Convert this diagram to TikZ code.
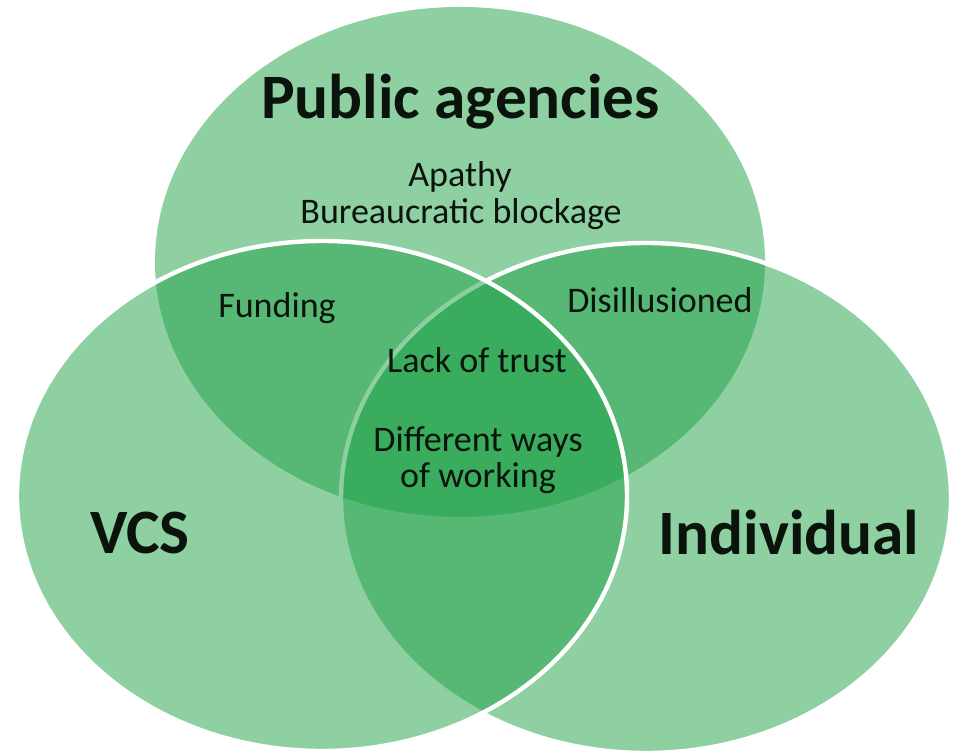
\documentclass[tikz,border=0pt]{standalone}
\usepackage{fontspec}
\setmainfont{Carlito}
\usepackage{tikz}
\definecolor{vgreen}{RGB}{31,161,71}
\definecolor{inktext}{RGB}{10,20,12}

\begin{document}
\begin{tikzpicture}
  \tikzstyle{setfill}=[fill=vgreen,fill opacity=0.5]
  \tikzstyle{setline}=[draw=white,line width=2.5pt]
  \tikzstyle{setname}=[text=inktext,font=\fontsize{36}{40}\selectfont\bfseries,inner sep=0pt,anchor=base]
  \tikzstyle{issue}=[text=inktext,font=\fontsize{20.5}{21}\selectfont,inner sep=0pt,anchor=base]

  \useasboundingbox (0,0) rectangle (19.06,15.08);

  % the three sets: agencies first, VCS on top
  \path[setfill] (9.20,9.84) ellipse [x radius=6.10cm,y radius=5.10cm];
  \path[setfill,setline] (12.92,5.12) ellipse [x radius=6.10cm,y radius=5.10cm];
  \path[setfill,setline] (6.44,5.16) ellipse [x radius=6.10cm,y radius=5.10cm];

  \node[setname] (pub) at (9.21,12.70) {Public agencies};
  \node[setname] (vcs) at (2.80,4.00) {VCS};
  \node[setname] (ind) at (15.78,3.98) {Individual};

  \node[issue] (apathy) at (9.20,11.34) {Apathy};
  \node[issue] (block) at (9.22,10.60) {Bureaucratic blockage};
  \node[issue] (fund) at (5.54,8.72) {Funding};
  \node[issue] (disil) at (13.20,8.82) {Disillusioned};
  \node[issue] (trust) at (9.54,7.62) {Lack of trust};
  \node[issue] (ways) at (9.56,6.04) {Different ways};
  \node[issue] (work) at (9.56,5.32) {of working};
\end{tikzpicture}
\end{document}
